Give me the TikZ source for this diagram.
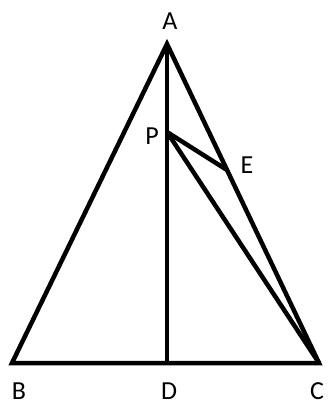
\documentclass[tikz,border=0pt]{standalone}
\usepackage{fontspec}
\setmainfont{Carlito}
\tikzset{seg/.style={line width=4.5pt,line join=miter,line cap=butt},
lab/.style={font=\fontsize{26pt}{26pt}\selectfont,text=black,inner sep=0pt,text height=16.7pt,text depth=0pt}}
\begin{document}
\begin{tikzpicture}[x=1pt,y=-1pt]
\useasboundingbox (0,0) rectangle (328,407);
\coordinate (A) at (167,44);
\coordinate (B) at (12,363);
\coordinate (C) at (319,363);
\coordinate (D) at (167,363);
\coordinate (P) at (167,132);
\coordinate (E) at (227,170);
\draw[seg] (A) -- (B) -- (C) -- cycle;
\draw[seg] (A) -- (D);
\draw[seg] (P) -- (E);
\draw[seg] (P) -- (C);
\node[lab] (la) at (170,21) {A};
\node[lab] (lp) at (152,136) {P};
\node[lab] (le) at (247,165) {E};
\node[lab] (lb) at (19,391) {B};
\node[lab] (ld) at (169,391) {D};
\node[lab] (lc) at (317,391) {C};
\end{tikzpicture}
\end{document}
